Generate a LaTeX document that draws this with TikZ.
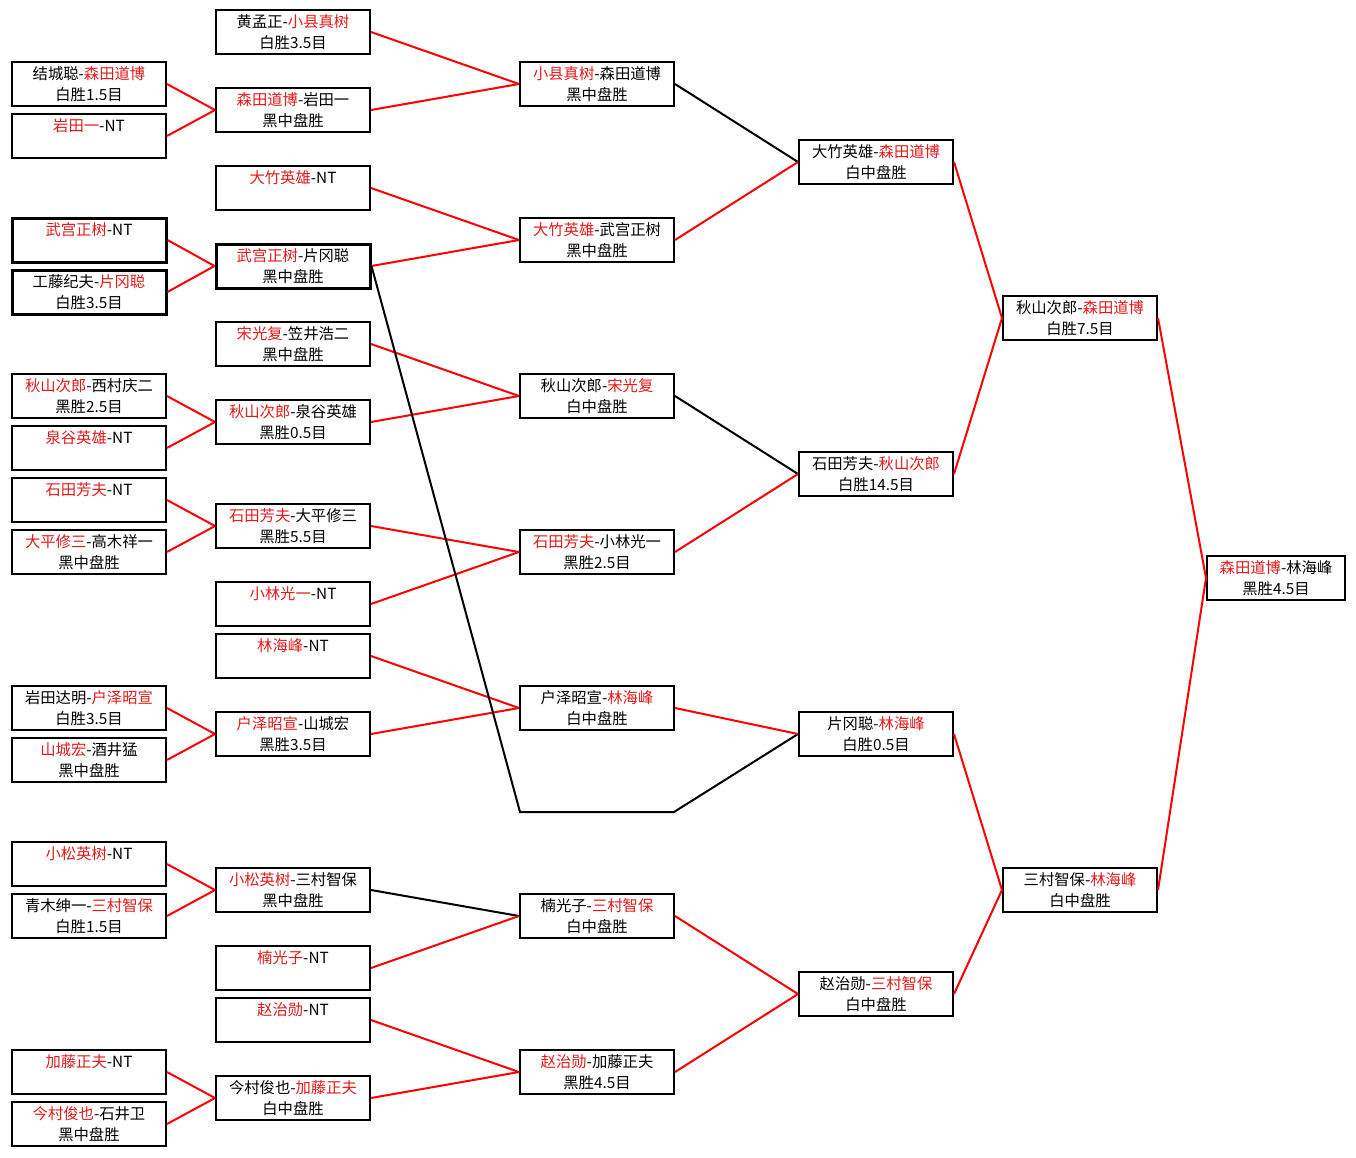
\documentclass[tikz,border=0pt]{standalone}
\usepackage{fontspec}
\setmainfont{Noto Sans CJK SC}
\usepackage{tikz}
\usetikzlibrary{positioning}
\definecolor{winred}{RGB}{226,26,26}
\newcommand{\wn}[1]{\textcolor{winred}{#1}}
\newcommand{\nores}{\phantom{盘}}

\begin{document}
\begin{tikzpicture}[x=0.75pt,y=-0.75pt,
  box/.style={draw,line width=1.5pt,minimum width=115.5pt,minimum height=33pt,
    inner sep=0pt,align=center,font=\fontsize{11.5}{15.5}\selectfont},
  thickbox/.style={box,line width=2.25pt},
  redline/.style={draw=red,line width=1.5pt},
  blackline/.style={draw=black,line width=1.5pt}]
  \useasboundingbox[fill=white](0,0) rectangle (1356,1157);
  % round 1
  \node[box](r1a) at (89,84){结城聪-\wn{森田道博}\\白胜1.5目};
  \node[box](r1b) at (89,136){\wn{岩田一}-NT\\\nores};
  \node[thickbox](r1c) at (89,240){\wn{武宫正树}-NT\\\nores};
  \node[thickbox](r1d) at (89,292){工藤纪夫-\wn{片冈聪}\\白胜3.5目};
  \node[box](r1e) at (89,396){\wn{秋山次郎}-西村庆二\\黑胜2.5目};
  \node[box](r1f) at (89,448){\wn{泉谷英雄}-NT\\\nores};
  \node[box](r1g) at (89,500){\wn{石田芳夫}-NT\\\nores};
  \node[box](r1h) at (89,552){\wn{大平修三}-高木祥一\\黑中盘胜};
  \node[box](r1i) at (89,708){岩田达明-\wn{户泽昭宣}\\白胜3.5目};
  \node[box](r1j) at (89,760){\wn{山城宏}-酒井猛\\黑中盘胜};
  \node[box](r1k) at (89,864){\wn{小松英树}-NT\\\nores};
  \node[box](r1l) at (89,916){青木绅一-\wn{三村智保}\\白胜1.5目};
  \node[box](r1m) at (89,1072){\wn{加藤正夫}-NT\\\nores};
  \node[box](r1n) at (89,1124){\wn{今村俊也}-石井卫\\黑中盘胜};
  % round 2
  \node[box](r2a) at (293,32){黄孟正-\wn{小县真树}\\白胜3.5目};
  \node[box](r2b) at (293,110){\wn{森田道博}-岩田一\\黑中盘胜};
  \node[box](r2c) at (293,188){\wn{大竹英雄}-NT\\\nores};
  \node[thickbox](r2d) at (293,266){\wn{武宫正树}-片冈聪\\黑中盘胜};
  \node[box](r2e) at (293,344){\wn{宋光复}-笠井浩二\\黑中盘胜};
  \node[box](r2f) at (293,422){\wn{秋山次郎}-泉谷英雄\\黑胜0.5目};
  \node[box](r2g) at (293,526){\wn{石田芳夫}-大平修三\\黑胜5.5目};
  \node[box](r2h) at (293,604){\wn{小林光一}-NT\\\nores};
  \node[box](r2i) at (293,656){\wn{林海峰}-NT\\\nores};
  \node[box](r2j) at (293,734){\wn{户泽昭宣}-山城宏\\黑胜3.5目};
  \node[box](r2k) at (293,890){\wn{小松英树}-三村智保\\黑中盘胜};
  \node[box](r2l) at (293,968){\wn{楠光子}-NT\\\nores};
  \node[box](r2m) at (293,1020){\wn{赵治勋}-NT\\\nores};
  \node[box](r2n) at (293,1098){今村俊也-\wn{加藤正夫}\\白中盘胜};
  % round 3
  \node[box](r3a) at (597,84){\wn{小县真树}-森田道博\\黑中盘胜};
  \node[box](r3b) at (597,240){\wn{大竹英雄}-武宫正树\\黑中盘胜};
  \node[box](r3c) at (597,396){秋山次郎-\wn{宋光复}\\白中盘胜};
  \node[box](r3d) at (597,552){\wn{石田芳夫}-小林光一\\黑胜2.5目};
  \node[box](r3e) at (597,708){户泽昭宣-\wn{林海峰}\\白中盘胜};
  \node[box](r3f) at (597,916){楠光子-\wn{三村智保}\\白中盘胜};
  \node[box](r3g) at (597,1072){\wn{赵治勋}-加藤正夫\\黑胜4.5目};
  \coordinate (byel) at (520,812);
  \coordinate (byer) at (674,812);
  % round 4, semifinals, final
  \node[box](r4a) at (876,162){大竹英雄-\wn{森田道博}\\白中盘胜};
  \node[box](r4b) at (876,474){石田芳夫-\wn{秋山次郎}\\白胜14.5目};
  \node[box](r4c) at (876,734){片冈聪-\wn{林海峰}\\白胜0.5目};
  \node[box](r4d) at (876,994){赵治勋-\wn{三村智保}\\白中盘胜};
  \node[box](r5a) at (1080,318){秋山次郎-\wn{森田道博}\\白胜7.5目};
  \node[box](r5b) at (1080,890){三村智保-\wn{林海峰}\\白中盘胜};
  \node[box,minimum width=103.5pt](fin) at (1276,578){\wn{森田道博}-林海峰\\黑胜4.5目};
  % connectors
  \draw[redline](r1a.east)--(r2b.west);\draw[redline](r1b.east)--(r2b.west);
  \draw[redline](r1c.east)--(r2d.west);\draw[redline](r1d.east)--(r2d.west);
  \draw[redline](r1e.east)--(r2f.west);\draw[redline](r1f.east)--(r2f.west);
  \draw[redline](r1g.east)--(r2g.west);\draw[redline](r1h.east)--(r2g.west);
  \draw[redline](r1i.east)--(r2j.west);\draw[redline](r1j.east)--(r2j.west);
  \draw[redline](r1k.east)--(r2k.west);\draw[redline](r1l.east)--(r2k.west);
  \draw[redline](r1m.east)--(r2n.west);\draw[redline](r1n.east)--(r2n.west);
  \draw[redline](r2a.east)--(r3a.west);\draw[redline](r2b.east)--(r3a.west);
  \draw[redline](r2c.east)--(r3b.west);\draw[redline](r2d.east)--(r3b.west);
  \draw[redline](r2e.east)--(r3c.west);\draw[redline](r2f.east)--(r3c.west);
  \draw[redline](r2g.east)--(r3d.west);\draw[redline](r2h.east)--(r3d.west);
  \draw[redline](r2i.east)--(r3e.west);\draw[redline](r2j.east)--(r3e.west);
  \draw[blackline](r2k.east)--(r3f.west);\draw[redline](r2l.east)--(r3f.west);
  \draw[redline](r2m.east)--(r3g.west);\draw[redline](r2n.east)--(r3g.west);
  \draw[blackline](r2d.east)--(byel)--(byer)--(r4c.west);
  \draw[blackline](r3a.east)--(r4a.west);\draw[redline](r3b.east)--(r4a.west);
  \draw[blackline](r3c.east)--(r4b.west);\draw[redline](r3d.east)--(r4b.west);
  \draw[redline](r3e.east)--(r4c.west);
  \draw[redline](r3f.east)--(r4d.west);\draw[redline](r3g.east)--(r4d.west);
  \draw[redline](r4a.east)--(r5a.west);\draw[redline](r4b.east)--(r5a.west);
  \draw[redline](r4c.east)--(r5b.west);\draw[redline](r4d.east)--(r5b.west);
  \draw[redline](r5a.east)--(fin.west);\draw[redline](r5b.east)--(fin.west);
\end{tikzpicture}
\end{document}
